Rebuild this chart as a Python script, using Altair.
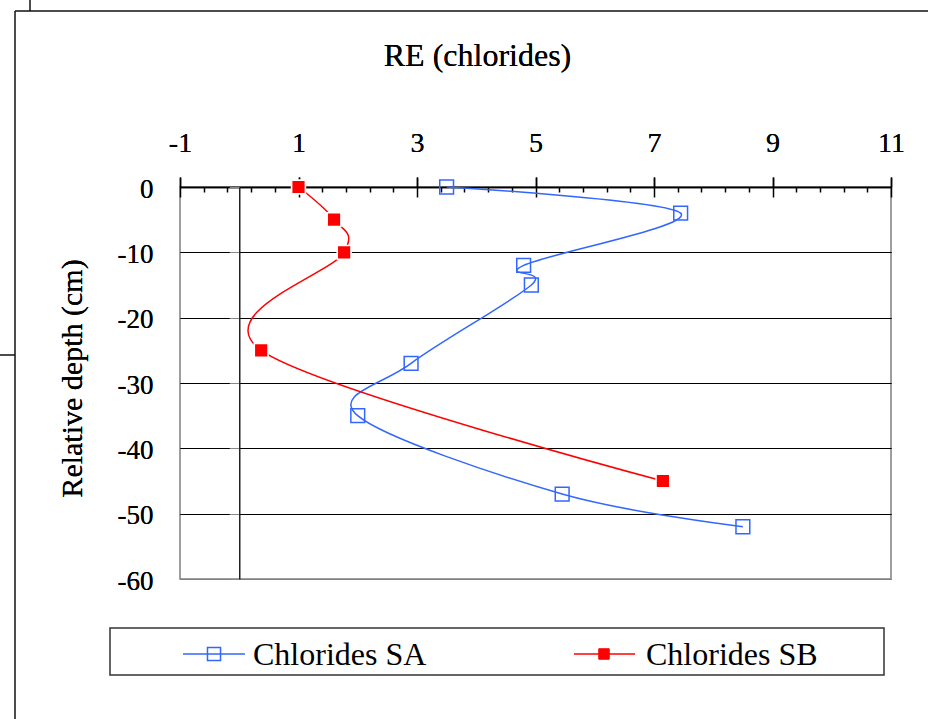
import altair as alt
import pandas as pd

# ---- data ----
series_names = ["Chlorides SA", "Chlorides SB"]
sa_re = [3.5, 7.45, 4.8, 4.93, 2.9, 2.0, 5.45, 8.5]
sa_depth = [0, -4, -12, -15, -27, -35, -47, -52]
sb_re = [1.0, 1.6, 1.77, 0.37, 7.15]
sb_depth = [0, -5, -10, -25, -45]

x_major = [-1, 1, 3, 5, 7, 9, 11]
x_minor = [round(-1 + 0.4 * k, 1) for k in range(31)]
y_ticks = [0, -10, -20, -30, -40, -50, -60]

rows = []
for i, (x, y) in enumerate(zip(sa_re, sa_depth)):
    rows.append({"series": series_names[0], "re": x, "depth": y, "idx": i})
for i, (x, y) in enumerate(zip(sb_re, sb_depth)):
    rows.append({"series": series_names[1], "re": x, "depth": y, "idx": i})
df = pd.DataFrame(rows)
df_sa = df[df["series"] == series_names[0]]
df_sb = df[df["series"] == series_names[1]]
names_df = pd.DataFrame({"series": series_names})

W, H = 711, 392
FONT = "Liberation Serif"
BLUE = "#3366FF"
RED = "#FF0000"

xscale = alt.Scale(domain=[-1, 11], nice=False, zero=False)
yscale = alt.Scale(domain=[-60, 0], nice=False, zero=False)
stroke_scale = alt.Scale(domain=series_names, range=[BLUE, RED])

axis_x_main = alt.Axis(
    orient="top", values=x_major, labelExpr="'' + datum.value",
    labelFont=FONT, labelFontSize=28, labelColor="black", labelPadding=34,
    labelBaseline="middle", labelFlush=False, tickSize=10, tickColor="black",
    tickWidth=1.5, domainColor="black", domainWidth=1.5, grid=False,
    title="RE (chlorides)", titleFont=FONT, titleFontSize=32,
    titleFontWeight="normal", titleColor="black", titleX=297, titleY=-132,
    titleAlign="center", titleBaseline="middle", zindex=0,
)
axis_x_inner = alt.Axis(
    orient="bottom", offset=-H, values=x_minor, labels=False, domain=False,
    grid=False, title=None, tickColor="black", tickWidth=1.5,
    tickSize={"condition": {"test": "abs(datum.value - round(datum.value)) < 0.01", "value": 10}, "value": 5},
    zindex=0,
)
axis_y_main = alt.Axis(
    orient="left", values=y_ticks, labelExpr="'' + datum.value",
    labelFont=FONT, labelFontSize=27, labelColor="black", labelPadding=27,
    labelFlush=False, labelOffset=2,
    ticks=False, tickSize=0, domain=False, grid=True,
    gridColor={"condition": {"test": "datum.value == -60", "value": "#808080"}, "value": "black"},
    gridWidth=1, title="Relative depth (cm)", titleFont=FONT, titleFontSize=30,
    titleFontWeight="normal", titleColor="black", titleX=-108, titleY=191,
    titleAngle=270, titleAlign="center", titleBaseline="middle", zindex=0,
)
axis_y_zero = alt.Axis(
    orient="left", offset=-W / 12.0, values=y_ticks, labels=False, grid=False,
    title=None, domain=True, domainColor="#222222", domainWidth=1.5,
    ticks=True, tickSize=10, tickColor="#888888", tickWidth=1, zindex=0,
)

one = pd.DataFrame({"k": [0]})
frame_top = alt.Chart(one).mark_rule(color="#111111", strokeWidth=1.5).encode(
    x=alt.value(-165), x2=alt.value(748), y=alt.value(-176))
frame_left = alt.Chart(one).mark_rule(color="#111111", strokeWidth=1.5).encode(
    x=alt.value(-165), y=alt.value(-176), y2=alt.value(532))
stub_top = alt.Chart(one).mark_rule(color="#111111", strokeWidth=1.5).encode(
    x=alt.value(-150), y=alt.value(-187), y2=alt.value(-176))
stub_left = alt.Chart(one).mark_rule(color="#111111", strokeWidth=1.5).encode(
    x=alt.value(-180), x2=alt.value(-165), y=alt.value(168))
legend_box = alt.Chart(one).mark_rect(fill="white", stroke="#333333", strokeWidth=1.5).encode(
    x=alt.value(-70), x2=alt.value(704), y=alt.value(441), y2=alt.value(488))

# ---- legend entries (drawn as marks) ----
LEG_Y = 467
leg_line_sa = alt.Chart(one).mark_rule(color=BLUE, strokeWidth=1.5).encode(
    x=alt.value(3), x2=alt.value(65), y=alt.value(LEG_Y))
leg_sq_sa = alt.Chart(one).mark_point(shape="square", size=170, filled=False,
                                      stroke=BLUE, strokeWidth=1.5, opacity=1).encode(
    x=alt.value(34), y=alt.value(LEG_Y))
leg_txt_sa = alt.Chart(names_df).transform_filter(
    alt.datum.series == series_names[0]
).mark_text(align="left", baseline="middle", font=FONT, fontSize=32, color="black").encode(
    text="series:N", x=alt.value(73), y=alt.value(LEG_Y + 1))
leg_line_sb = alt.Chart(one).mark_rule(color=RED, strokeWidth=1.5).encode(
    x=alt.value(394), x2=alt.value(455), y=alt.value(LEG_Y))
leg_sq_sb = alt.Chart(one).mark_point(shape="square", size=110, filled=True,
                                      fill=RED, stroke=RED, strokeWidth=1, opacity=1).encode(
    x=alt.value(424), y=alt.value(LEG_Y))
leg_txt_sb = alt.Chart(names_df).transform_filter(
    alt.datum.series == series_names[1]
).mark_text(align="left", baseline="middle", font=FONT, fontSize=32, color="black").encode(
    text="series:N", x=alt.value(466), y=alt.value(LEG_Y + 1))

# ---- data layers ----
lines = alt.Chart(df).mark_line(interpolate="cardinal", strokeWidth=1.5).encode(
    x=alt.X("re:Q", scale=xscale, axis=axis_x_inner),
    y=alt.Y("depth:Q", scale=yscale, axis=axis_y_zero),
    stroke=alt.Stroke("series:N", scale=stroke_scale, legend=None),
    order=alt.Order("idx:Q"),
)
sa_marks = alt.Chart(df_sa).mark_point(
    shape="square", size=190, filled=False, stroke=BLUE, strokeWidth=1.5, opacity=1,
).encode(
    x=alt.X("re:Q", scale=xscale, axis=axis_x_main),
    y=alt.Y("depth:Q", scale=yscale, axis=axis_y_main),
)
sb_marks = alt.Chart(df_sb).mark_point(
    shape="square", size=190, filled=True, fill=RED, stroke="white",
    strokeWidth=1.6, opacity=1,
).encode(
    x=alt.X("re:Q", scale=xscale, axis=axis_x_main),
    y=alt.Y("depth:Q", scale=yscale, axis=axis_y_main),
)

chart = alt.layer(
    frame_top, frame_left, stub_top, stub_left, legend_box,
    leg_line_sa, leg_sq_sa, leg_txt_sa, leg_line_sb, leg_sq_sb, leg_txt_sb,
    lines, sa_marks, sb_marks
).resolve_axis(x="independent", y="independent").properties(
    width=W, height=H,
    autosize=alt.AutoSizeParams(type="none"),
    padding={"left": 180, "top": 187, "right": 37, "bottom": 140},
    background="white",
).configure_view(
    stroke="#808080", strokeWidth=1.5
)

chart.save("out.html", embed_options={"renderer": "svg", "actions": False})
